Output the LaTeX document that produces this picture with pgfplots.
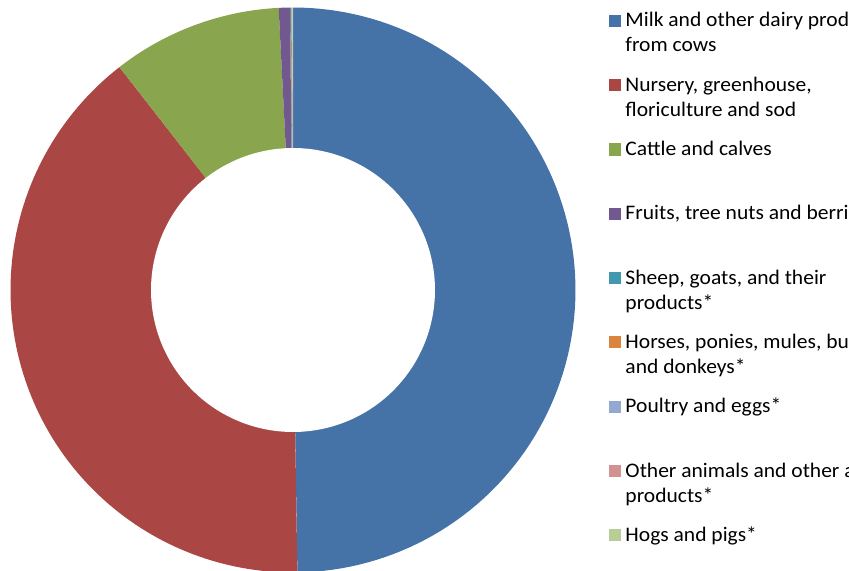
\documentclass[border=0pt]{standalone}
\usepackage{pgfplots}
\pgfplotsset{compat=1.18}
\usepackage{fontspec}
\setmainfont{Carlito}[FakeStretch=1.04]
\definecolor{cBlue}{HTML}{4572A7}
\definecolor{cRed}{HTML}{AA4643}
\definecolor{cGreen}{HTML}{89A54E}
\definecolor{cPurple}{HTML}{71588F}
\definecolor{cTeal}{HTML}{4198AF}
\definecolor{cOrange}{HTML}{DB843D}
\definecolor{cLBlue}{HTML}{93A9CF}
\definecolor{cPink}{HTML}{D19392}
\definecolor{cLGreen}{HTML}{B9CD96}
% slice: cumulative start %, cumulative end %, colour, legend text
\newcommand{\slice}[4]{%
  \addplot[fill=#3, draw=none, domain={90-3.6*(#2)}:{90-3.6*(#1)}]
    ({282.5*cos(x)},{282.5*sin(x)}) -- (axis cs:0,0) -- cycle;
  \addlegendentry{\parbox[t]{320bp}{#4}}
}
\begin{document}
\begin{tikzpicture}
\useasboundingbox (0,0) rectangle (849bp,571bp);
\clip (0,0) rectangle (849bp,571bp);
\begin{axis}[
  hide axis, x=1bp, y=1bp,
  xmin=-293, xmax=556, ymin=-281, ymax=290,
  at={(0,0)}, anchor=south west,
  samples=100,
  legend cell align=left,
  legend image code/.code={\fill[#1] (0bp,0bp) rectangle (11.8bp,12.2bp);},
  legend style={draw=none, fill=none, inner sep=0pt,
    at={(axis cs:316,278.3)}, anchor=north west,
    column sep=4.5bp, row sep=0pt,
    font=\fontsize{20.7bp}{25bp}\selectfont,
    nodes={inner sep=0pt, text height=15bp, text depth=49.3bp},
    cells={anchor=base west}},
]
% values in percent: 49.75, 39.72, 9.72, 0.64, 0.05, 0.04, 0.04, 0.02, 0.02
\slice{0}{49.75}{cBlue}{Milk and other dairy products\\from cows}
\slice{49.75}{89.47}{cRed}{Nursery, greenhouse,\\floriculture and sod}
\slice{89.47}{99.19}{cGreen}{Cattle and calves}
\slice{99.19}{99.83}{cPurple}{Fruits, tree nuts and berries}
\slice{99.83}{99.88}{cTeal}{Sheep, goats, and their\\products*}
\slice{99.88}{99.92}{cOrange}{Horses, ponies, mules, burros\\and donkeys*}
\slice{99.92}{99.96}{cLBlue}{Poultry and eggs*}
\slice{99.96}{99.98}{cPink}{Other animals and other animal\\products*}
\slice{99.98}{100}{cLGreen}{Hogs and pigs*}
\addplot[fill=white, draw=none, forget plot, domain=0:360, samples=181]
  ({142*cos(x)},{142*sin(x)});
\end{axis}
\end{tikzpicture}
\end{document}
